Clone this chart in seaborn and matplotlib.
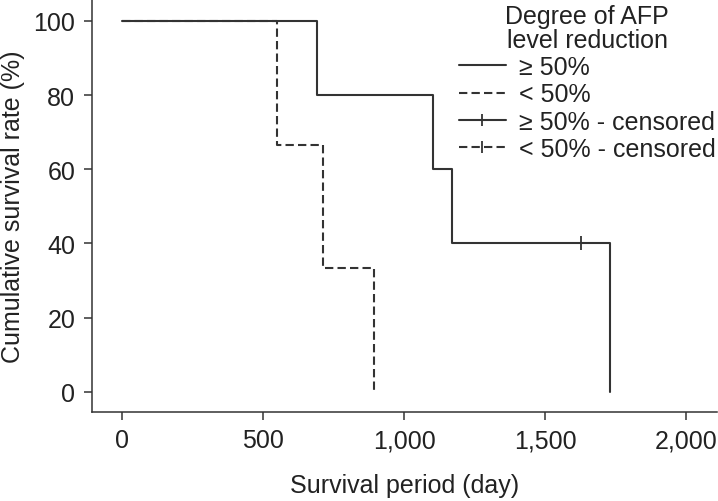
import numpy as np
import pandas as pd
import seaborn as sns
import matplotlib.pyplot as plt
from matplotlib.lines import Line2D

# survival times (day) and event flags (1 = death, 0 = censored)
high_times = [690, 1100, 1169, 1625, 1730]
high_events = [1, 1, 1, 0, 1]
low_times = [548, 711, 891]
low_events = [1, 1, 1]

group_labels = ['\u2265 50%', '< 50%']
xtick_values = [0, 500, 1000, 1500, 2000]
xtick_labels = ['0', '500', '1,000', '1,500', '2,000']
ytick_values = [0, 20, 40, 60, 80, 100]


def kaplan_meier(times, events, label):
    # product-limit estimate, returns step points and censor points
    order = np.argsort(times)
    t = np.array(times)[order]
    e = np.array(events)[order]
    n = len(t)
    surv = 100.0
    rows = [(0, surv, label)]
    cens = []
    for i, (ti, ei) in enumerate(zip(t, e)):
        at_risk = n - i
        if ei:
            surv = surv * (at_risk - 1) / at_risk
        else:
            cens.append((ti, surv, label))
        rows.append((ti, surv, label))
    return rows, cens


r1, c1 = kaplan_meier(high_times, high_events, group_labels[0])
r2, c2 = kaplan_meier(low_times, low_events, group_labels[1])
steps = pd.DataFrame(r1 + r2, columns=['day', 'surv', 'group'])
censored = pd.DataFrame(c1 + c2, columns=['day', 'surv', 'group'])

sns.set_style('ticks')
plt.rcParams['font.family'] = ['Liberation Sans', 'DejaVu Sans']
ink = '#333333'
txt = '#222222'
fs = 18

fig = plt.figure(figsize=(7.18, 5.02), dpi=100)
ax = fig.add_axes([0.128, 0.178, 0.871, 0.820])

sns.lineplot(data=steps, x='day', y='surv', style='group',
             dashes={group_labels[0]: '', group_labels[1]: (4, 2)},
             color=ink, linewidth=1.5, drawstyle='steps-post',
             estimator=None, sort=False, legend=False, ax=ax)
sns.scatterplot(data=censored, x='day', y='surv', marker='|', s=90,
                color=ink, linewidth=1.3, legend=False, ax=ax)

ax.set_xlim(-108, 2110)
ax.set_ylim(-5.3, 105.6)
ax.set_xticks(xtick_values)
ax.set_xticklabels(xtick_labels)
ax.set_yticks(ytick_values)
ax.tick_params(length=6, width=1.1, pad=6, labelsize=fs, colors=ink, labelcolor=txt)
for s in ['top', 'right']:
    ax.spines[s].set_visible(False)
for s in ['left', 'bottom']:
    ax.spines[s].set_color(ink)
    ax.spines[s].set_linewidth(1.1)

ax.set_xlabel('Survival period (day)', fontsize=fs, color=txt, labelpad=15)
ax.set_ylabel('Cumulative survival rate (%)', fontsize=fs, color=txt, labelpad=6)

handles = [
    Line2D([], [], color=ink, lw=1.5, linestyle='-'),
    Line2D([], [], color=ink, lw=1.5, dashes=(4, 2)),
    Line2D([], [], color=ink, lw=1.5, linestyle='-', marker='|', markersize=9, markeredgewidth=1.3),
    Line2D([], [], color=ink, lw=1.5, dashes=(4, 2), marker='|', markersize=9, markeredgewidth=1.3),
]
labels = [group_labels[0], group_labels[1],
          group_labels[0] + ' - censored', group_labels[1] + ' - censored']
leg = ax.legend(handles, labels, title='Degree of AFP\nlevel reduction',
                loc='upper right', bbox_to_anchor=(1.013, 1.015),
                frameon=False, fontsize=fs, title_fontsize=fs,
                handlelength=1.9, handletextpad=0.5, labelspacing=0.13,
                borderaxespad=0.0)
leg.get_title().set_color(txt)
leg.get_title().set_multialignment('center')
leg.get_title().set_linespacing(1.0)
for t in leg.get_texts():
    t.set_color(txt)

fig.savefig('out.png', dpi=100)
